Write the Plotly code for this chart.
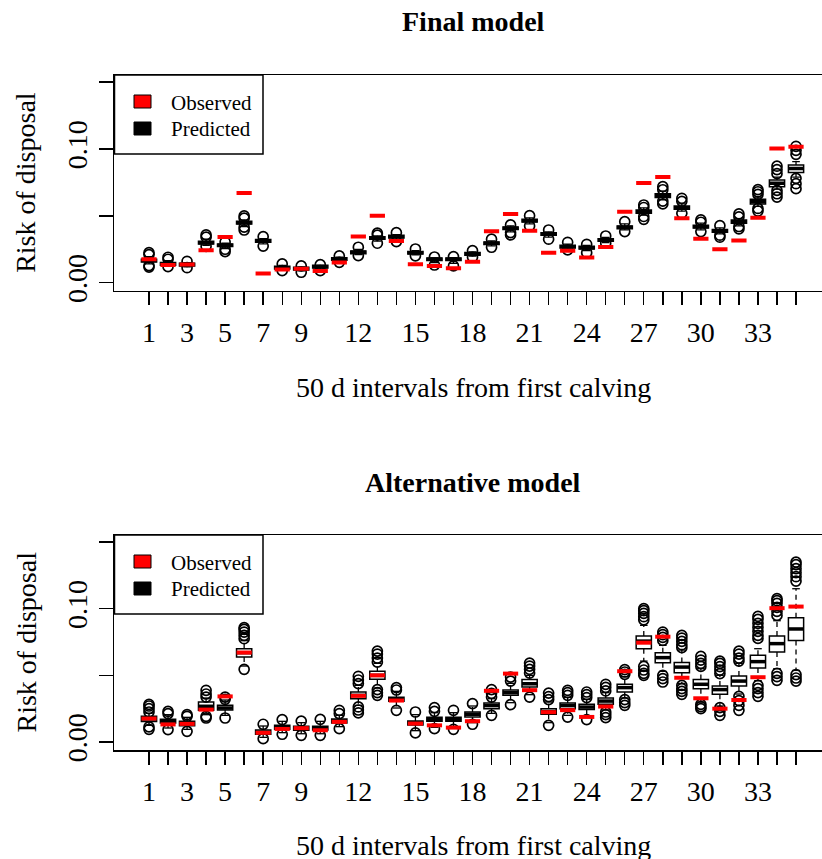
import plotly.graph_objects as go

# ---------------- data ----------------
intervals = list(range(1, 36))
shown_labels = [1, 3, 5, 7, 9, 12, 15, 18, 21, 24, 27, 30, 33]
tick_text = [str(i) if i in shown_labels else "" for i in intervals]
y_tickvals = [0.0, 0.05, 0.10, 0.15]
y_ticktext = ["0.00", "", "0.10", ""]

observed = [0.0176, 0.0132, 0.0136, 0.0243, 0.0342, 0.0671, 0.0069, 0.0098, 0.0104, 0.0088,
            0.0151, 0.0346, 0.0500, 0.0311, 0.0138, 0.0125, 0.0108, 0.0156, 0.0384, 0.0513,
            0.0389, 0.0224, 0.0239, 0.0188, 0.0266, 0.0531, 0.0745, 0.0790, 0.0482, 0.0328,
            0.0250, 0.0315, 0.0486, 0.1004, 0.1016]

# Final model (predicted)
final_median = [0.0165, 0.0140, 0.0135, 0.0299, 0.0280, 0.0449, 0.0312, 0.0112, 0.0105, 0.0120,
                0.0177, 0.0227, 0.0334, 0.0344, 0.0224, 0.0175, 0.0175, 0.0215, 0.0295, 0.0407,
                0.0464, 0.0364, 0.0269, 0.0262, 0.0319, 0.0414, 0.0531, 0.0651, 0.0561, 0.0419,
                0.0387, 0.0456, 0.0606, 0.0743, 0.0853]
final_q1 = [0.0155, 0.0130, 0.0125, 0.0289, 0.0270, 0.0439, 0.0302, 0.0102, 0.0095, 0.0110,
            0.0167, 0.0217, 0.0324, 0.0334, 0.0214, 0.0165, 0.0165, 0.0205, 0.0285, 0.0397,
            0.0454, 0.0354, 0.0259, 0.0252, 0.0309, 0.0404, 0.0519, 0.0637, 0.0549, 0.0409,
            0.0377, 0.0444, 0.0589, 0.0718, 0.0823]
final_q3 = [0.0175, 0.0150, 0.0145, 0.0309, 0.0290, 0.0459, 0.0322, 0.0122, 0.0115, 0.0130,
            0.0187, 0.0237, 0.0344, 0.0354, 0.0234, 0.0185, 0.0185, 0.0225, 0.0305, 0.0417,
            0.0474, 0.0374, 0.0279, 0.0272, 0.0329, 0.0424, 0.0543, 0.0665, 0.0573, 0.0429,
            0.0397, 0.0468, 0.0624, 0.0768, 0.0880]
final_whisk_lo = [0.0140, 0.0122, 0.0118, 0.0280, 0.0255, 0.0420, 0.0290, 0.0095, 0.0088, 0.0100,
                  0.0160, 0.0210, 0.0310, 0.0320, 0.0208, 0.0150, 0.0145, 0.0198, 0.0275, 0.0380,
                  0.0440, 0.0340, 0.0252, 0.0240, 0.0300, 0.0395, 0.0505, 0.0620, 0.0535, 0.0395,
                  0.0365, 0.0425, 0.0570, 0.0700, 0.0790]
final_whisk_hi = [0.0195, 0.0165, 0.0150, 0.0325, 0.0295, 0.0470, 0.0330, 0.0130, 0.0118, 0.0130,
                  0.0190, 0.0248, 0.0350, 0.0360, 0.0240, 0.0185, 0.0188, 0.0230, 0.0312, 0.0425,
                  0.0485, 0.0380, 0.0288, 0.0278, 0.0338, 0.0440, 0.0560, 0.0685, 0.0590, 0.0445,
                  0.0410, 0.0478, 0.0640, 0.0790, 0.0905]
final_out_hi = [[0.0210, 0.0224], [0.0175, 0.0190], [0.0160], [0.0340, 0.0357], [0.0304],
                [0.0482, 0.0499], [0.0344], [0.0140], [0.0125], [0.0135],
                [0.0200], [0.0265], [0.0355, 0.0370], [0.0374], [0.0252],
                [0.0192], [0.0195], [0.0240], [0.0325], [0.0432],
                [0.0501], [0.0394], [0.0302], [0.0287], [0.0349],
                [0.0456], [0.0562, 0.0581], [0.0695, 0.0718], [0.0608, 0.0631], [0.0452, 0.0469],
                [0.0426], [0.0492, 0.0514], [0.0660, 0.0680, 0.0696], [0.0815, 0.0845, 0.0871],
                [0.0960, 0.0990, 0.1020]]
final_out_lo = [[0.0128, 0.0117], [0.0120], [0.0112], [0.0272], [0.0250, 0.0232],
                [0.0415, 0.0394], [0.0274], [0.0090], [0.0078], [0.0090],
                [0.0152], [0.0202], [0.0295], [0.0307], [0.0200],
                [0.0132], [0.0125], [0.0190], [0.0265], [0.0375, 0.0357],
                [0.0424], [0.0325], [0.0245], [0.0224], [0.0295],
                [0.0382], [0.0495, 0.0474], [0.0610, 0.0589], [0.0519], [0.0382],
                [0.0355, 0.0340], [0.0420, 0.0402], [0.0555, 0.0536], [0.0690, 0.0665, 0.0640],
                [0.0780, 0.0740, 0.0703]]

# Alternative model (predicted)
alt_median = [0.0173, 0.0157, 0.0138, 0.0268, 0.0255, 0.0670, 0.0073, 0.0113, 0.0103, 0.0105,
              0.0158, 0.0350, 0.0500, 0.0320, 0.0143, 0.0170, 0.0170, 0.0208, 0.0273, 0.0370,
              0.0437, 0.0228, 0.0273, 0.0262, 0.0307, 0.0408, 0.0757, 0.0633, 0.0562, 0.0433,
              0.0393, 0.0457, 0.0603, 0.0738, 0.0848]
alt_q1 = [0.0153, 0.0142, 0.0122, 0.0238, 0.0240, 0.0637, 0.0058, 0.0095, 0.0088, 0.0090,
          0.0143, 0.0325, 0.0470, 0.0305, 0.0128, 0.0155, 0.0155, 0.0187, 0.0250, 0.0350,
          0.0412, 0.0208, 0.0250, 0.0243, 0.0283, 0.0375, 0.0700, 0.0595, 0.0520, 0.0400,
          0.0358, 0.0420, 0.0555, 0.0675, 0.0762]
alt_q3 = [0.0193, 0.0170, 0.0155, 0.0300, 0.0275, 0.0700, 0.0090, 0.0125, 0.0118, 0.0118,
          0.0173, 0.0375, 0.0530, 0.0335, 0.0158, 0.0185, 0.0185, 0.0225, 0.0292, 0.0390,
          0.0468, 0.0250, 0.0292, 0.0283, 0.0330, 0.0433, 0.0795, 0.0670, 0.0597, 0.0468,
          0.0420, 0.0495, 0.0650, 0.0795, 0.0932]
alt_whisk_lo = [0.0125, 0.0105, 0.0095, 0.0205, 0.0200, 0.0570, 0.0035, 0.0070, 0.0062, 0.0062,
                0.0115, 0.0275, 0.0405, 0.0255, 0.0085, 0.0110, 0.0110, 0.0145, 0.0215, 0.0295,
                0.0355, 0.0145, 0.0200, 0.0185, 0.0240, 0.0330, 0.0607, 0.0530, 0.0440, 0.0300,
                0.0270, 0.0360, 0.0460, 0.0550, 0.0537]
alt_whisk_hi = [0.0215, 0.0205, 0.0185, 0.0330, 0.0315, 0.0760, 0.0120, 0.0155, 0.0145, 0.0155,
                0.0200, 0.0425, 0.0590, 0.0380, 0.0205, 0.0220, 0.0220, 0.0270, 0.0325, 0.0440,
                0.0500, 0.0300, 0.0335, 0.0320, 0.0370, 0.0490, 0.0875, 0.0725, 0.0690, 0.0550,
                0.0500, 0.0590, 0.0700, 0.0910, 0.1150]
alt_out_hi = [[0.0225, 0.0250, 0.0270, 0.0283], [0.0213, 0.0230], [0.0193, 0.0205],
              [0.0337, 0.0360, 0.0388], [0.0320, 0.0337], [0.0775, 0.0800, 0.0825, 0.0845, 0.0858],
              [0.0133], [0.0168], [0.0157], [0.0170], [0.0213, 0.0238],
              [0.0438, 0.0465, 0.0493], [0.0600, 0.0630, 0.0660, 0.0682], [0.0390, 0.0408],
              [0.0225], [0.0230, 0.0258], [0.0238], [0.0288], [0.0337, 0.0365, 0.0393],
              [0.0457, 0.0487], [0.0517, 0.0545, 0.0570, 0.0592], [0.0318, 0.0340, 0.0367],
              [0.0350, 0.0370, 0.0388], [0.0333, 0.0355, 0.0375], [0.0383, 0.0410, 0.0433],
              [0.0508, 0.0525, 0.0543], [0.0917, 0.0940, 0.0965, 0.0985, 0.1000],
              [0.0762, 0.0785, 0.0805, 0.0825], [0.0708, 0.0730, 0.0755, 0.0780, 0.0800],
              [0.0567, 0.0590, 0.0615, 0.0642], [0.0513, 0.0540, 0.0565, 0.0590, 0.0607],
              [0.0607, 0.0630, 0.0660, 0.0682],
              [0.0777, 0.0800, 0.0830, 0.0860, 0.0890, 0.0920, 0.0942],
              [0.0950, 0.0980, 0.1010, 0.1040, 0.1060, 0.1075],
              [0.1207, 0.1240, 0.1270, 0.1300, 0.1330, 0.1350]]
alt_out_lo = [[0.0113, 0.0095], [0.0093], [0.0080], [0.0193, 0.0180], [0.0180], [0.0545],
              [0.0025], [0.0058], [0.0050], [0.0050], [0.0100], [0.0263, 0.0240, 0.0218],
              [0.0393, 0.0370, 0.0350], [0.0238], [0.0068], [0.0100], [0.0095], [0.0133],
              [0.0200], [0.0280], [0.0337], [0.0125], [0.0187], [0.0168],
              [0.0225, 0.0205, 0.0183], [0.0318, 0.0295, 0.0275], [0.0567, 0.0540, 0.0515, 0.0500],
              [0.0500, 0.0475, 0.0450], [0.0425, 0.0400, 0.0380, 0.0358], [0.0283, 0.0265, 0.0250],
              [0.0258, 0.0230, 0.0200], [0.0343, 0.0310, 0.0275, 0.0238],
              [0.0425, 0.0400, 0.0370, 0.0343], [0.0515, 0.0490, 0.0463], [0.0505, 0.0480, 0.0457]]

panel_titles = ["Final model", "Alternative model"]
x_title = "50 d intervals from first calving"
y_title = "Risk of disposal"
legend_labels = ["Observed", "Predicted"]

# ---------------- layout geometry (pixels) ----------------
W, H = 822, 859
ML = 114
PW = W - ML
FONT = "Liberation Serif, Times New Roman, serif"
HALF = 0.4


def px(x):
    return (x - ML) / PW


def py(y):
    return 1 - y / H


panels = [
    dict(top=75, bottom=290.7, xt=388, med=final_median, q1=final_q1, q3=final_q3,
         wlo=final_whisk_lo, whi=final_whisk_hi, ohi=final_out_hi, olo=final_out_lo),
    dict(top=535, bottom=750, xt=845, med=alt_median, q1=alt_q1, q3=alt_q3,
         wlo=alt_whisk_lo, whi=alt_whisk_hi, ohi=alt_out_hi, olo=alt_out_lo),
]

fig = go.Figure()
shapes = []
annotations = []

for k, p in enumerate(panels):
    xa = "x" if k == 0 else "x2"
    ya = "y" if k == 0 else "y2"

    # box bodies
    fig.add_trace(go.Box(
        x=intervals, q1=p["q1"], median=p["med"], q3=p["q3"],
        lowerfence=p["q1"], upperfence=p["q3"], width=2 * HALF,
        fillcolor="white", line=dict(color="black", width=1.5),
        whiskerwidth=0, boxpoints=False, hoverinfo="skip",
        xaxis=xa, yaxis=ya, showlegend=False))

    # dashed whiskers
    wx, wy, sx, sy = [], [], [], []
    for xi, q1, q3, lo, hi in zip(intervals, p["q1"], p["q3"], p["wlo"], p["whi"]):
        wx += [xi, xi, None, xi, xi, None]
        wy += [q3, hi, None, q1, lo, None]
        sx += [xi - HALF / 2, xi + HALF / 2, None, xi - HALF / 2, xi + HALF / 2, None]
        sy += [hi, hi, None, lo, lo, None]
    fig.add_trace(go.Scatter(x=wx, y=wy, mode="lines",
                             line=dict(color="black", width=1.3, dash="5px,4px"),
                             hoverinfo="skip", xaxis=xa, yaxis=ya, showlegend=False))
    fig.add_trace(go.Scatter(x=sx, y=sy, mode="lines",
                             line=dict(color="black", width=1.3),
                             hoverinfo="skip", xaxis=xa, yaxis=ya, showlegend=False))

    # thick median bars
    mx, my = [], []
    for xi, m in zip(intervals, p["med"]):
        mx += [xi - HALF, xi + HALF, None]
        my += [m, m, None]
    fig.add_trace(go.Scatter(x=mx, y=my, mode="lines",
                             line=dict(color="black", width=3.5),
                             hoverinfo="skip", xaxis=xa, yaxis=ya, showlegend=False))

    # outliers
    ox, oy = [], []
    for xi, his, los in zip(intervals, p["ohi"], p["olo"]):
        for v in his + los:
            ox.append(xi)
            oy.append(v)
    fig.add_trace(go.Scatter(x=ox, y=oy, mode="markers",
                             marker=dict(symbol="circle-open", size=10, color="black",
                                         line=dict(width=1.7, color="black")),
                             hoverinfo="skip", xaxis=xa, yaxis=ya, showlegend=False))

    # observed (red segments)
    rx, ry = [], []
    for xi, v in zip(intervals, observed):
        rx += [xi - HALF, xi + HALF, None]
        ry += [v, v, None]
    fig.add_trace(go.Scatter(x=rx, y=ry, mode="lines",
                             line=dict(color="#ff0000", width=4),
                             hoverinfo="skip", xaxis=xa, yaxis=ya, showlegend=False))

    off = p["top"] - 75
    # legend
    shapes.append(dict(type="rect", xref="paper", yref="paper",
                       x0=px(114.5), x1=px(263), y0=py(154 + off), y1=py(75 + off),
                       line=dict(color="black", width=1.5), fillcolor="rgba(0,0,0,0)"))
    shapes.append(dict(type="rect", xref="paper", yref="paper",
                       x0=px(134), x1=px(151), y0=py(108 + off), y1=py(95 + off),
                       line=dict(color="black", width=1), fillcolor="#ff0000"))
    shapes.append(dict(type="rect", xref="paper", yref="paper",
                       x0=px(134), x1=px(151), y0=py(135 + off), y1=py(122 + off),
                       line=dict(color="black", width=1), fillcolor="black"))
    for lab, yy in zip(legend_labels, [103, 129]):
        annotations.append(dict(text=lab, xref="paper", yref="paper",
                                x=px(169), y=py(yy + off), xanchor="left", yanchor="middle",
                                showarrow=False, font=dict(family=FONT, size=21, color="black")))
    # titles
    annotations.append(dict(text="<b>" + panel_titles[k] + "</b>", xref="paper", yref="paper",
                            x=px(473), y=py(22 + off), xanchor="center", yanchor="middle",
                            showarrow=False, font=dict(family=FONT, size=28, color="black")))
    annotations.append(dict(text=x_title, xref="paper", yref="paper",
                            x=px(473), y=py(p["xt"]), xanchor="center", yanchor="middle",
                            showarrow=False, font=dict(family=FONT, size=28, color="black")))
    annotations.append(dict(text=y_title, xref="paper", yref="paper", textangle=-90,
                            x=px(26), y=py((p["top"] + p["bottom"]) / 2), xanchor="center",
                            yanchor="middle", showarrow=False,
                            font=dict(family=FONT, size=28, color="black")))

xr = [1 - (149 - ML) / 19.03, 1 + (W - 149) / 19.03]
yr = [-0.006, 0.1553]

xaxis_common = dict(range=xr, tickmode="array", tickvals=intervals, ticktext=tick_text,
                    ticks="outside", ticklen=13, tickwidth=1.4, tickcolor="black",
                    showline=True, linecolor="black", linewidth=1.5, mirror=True,
                    showgrid=False, zeroline=False, ticklabelstandoff=3,
                    tickfont=dict(family=FONT, size=28, color="black"), domain=[0, 1])
yaxis_common = dict(range=yr, tickmode="array", tickvals=y_tickvals, ticktext=y_ticktext,
                    tickangle=-90, ticks="outside", ticklen=14, tickwidth=1.4,
                    tickcolor="black", showline=True, linecolor="black", linewidth=1.5,
                    showgrid=False, zeroline=False,
                    tickfont=dict(family=FONT, size=28, color="black"))

fig.update_layout(
    width=W, height=H,
    margin=dict(l=ML, r=0, t=0, b=0, autoexpand=False),
    paper_bgcolor="white", plot_bgcolor="white",
    showlegend=False,
    xaxis=dict(**xaxis_common, anchor="y"),
    yaxis=dict(**yaxis_common, anchor="x", domain=[py(290.7), py(75)]),
    xaxis2=dict(**xaxis_common, anchor="y2"),
    yaxis2=dict(**yaxis_common, anchor="x2", domain=[py(750), py(535)]),
    shapes=shapes,
    annotations=annotations,
)

fig.write_html(
    "out.html",
    config={"displayModeBar": False, "staticPlot": True},
    post_script="document.body.style.margin='0';document.body.style.overflow='hidden';",
)
